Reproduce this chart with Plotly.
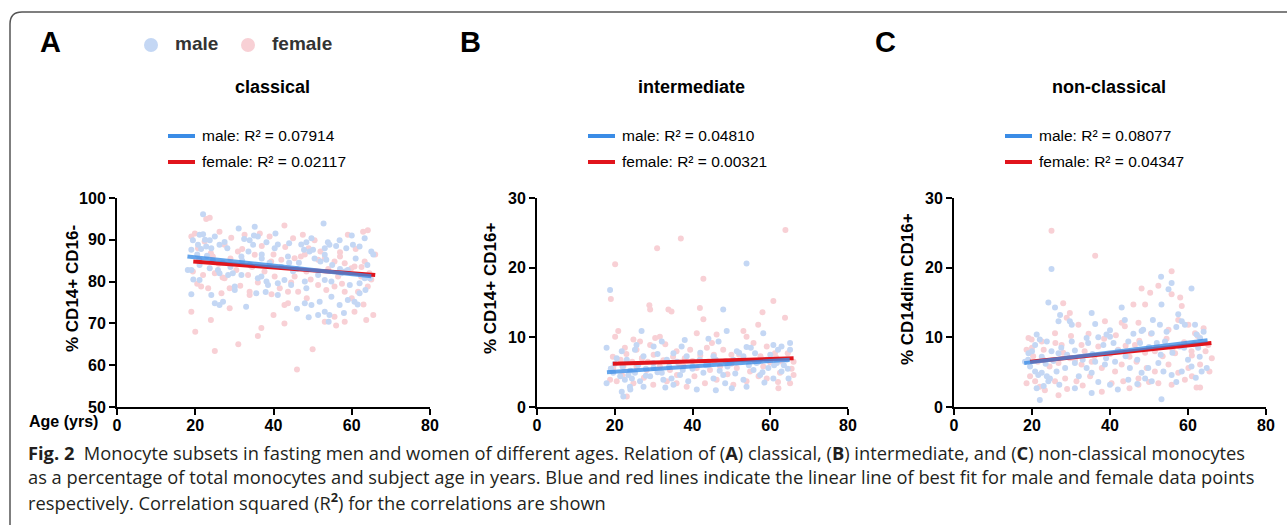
import plotly.graph_objects as go

W, H = 1287, 525

# ---------------- data ----------------
# Panel A: classical (% CD14+ CD16-)
a_male_age = [22.0, 52.8, 31.1, 35.2, 21.1, 22.0, 23.7, 25.0, 19.4, 20.7, 22.8, 24.1, 26.2, 28.2, 19.0,
              33.9, 34.8, 36.0, 38.2, 40.3, 41.1, 33.6, 31.8, 43.7, 47.1, 48.4, 49.7, 47.8, 49.2, 50.1,
              53.1, 53.1, 53.9, 54.3, 56.9, 58.6, 60.3, 62.0, 63.3, 65.0, 18.1, 19.0, 21.1, 23.7, 25.8,
              26.2, 28.4, 29.6, 31.8, 36.0, 36.9, 38.2, 38.6, 41.1, 42.8, 44.5, 48.4, 48.0, 51.4, 53.1,
              54.8, 57.3, 58.2, 59.5, 62.0, 63.3, 64.6, 21.1, 24.1, 19.0, 25.0, 26.2, 27.1, 30.1, 30.1,
              35.6, 41.1, 48.0, 49.7, 53.1, 54.3, 56.9, 59.0, 60.7, 62.0, 51.8, 54.8, 51.4, 54.1, 49.0,
              35.0, 37.0, 44.0, 46.0, 20.5, 21.5, 23.0, 24.5, 27.0, 29.0, 32.0, 34.0, 37.0, 39.0,
              42.0, 45.0, 46.5, 50.5, 52.0, 53.5, 55.0, 57.0, 59.0, 61.0, 64.0, 65.5, 22.5, 27.5,
              32.5, 40.5, 44.0, 56.0, 60.0, 63.5, 19.5, 33.0, 38.0, 46.0, 58.0, 61.5]
a_male_val = [96.1, 93.9, 92.7, 93.1, 91.2, 91.3, 89.9, 90.8, 89.9, 88.8, 88.4, 88.0, 88.8, 88.0, 87.6,
              89.9, 88.8, 90.8, 89.4, 88.0, 88.9, 87.2, 86.0, 86.0, 88.9, 89.4, 90.4, 87.6, 87.2, 87.6,
              88.0, 86.4, 89.4, 88.8, 89.9, 88.0, 88.8, 88.4, 90.4, 87.2, 82.8, 82.8, 84.0, 83.2, 82.8,
              82.0, 81.6, 82.0, 81.6, 80.8, 81.2, 80.0, 79.2, 79.6, 80.4, 79.2, 78.4, 80.0, 81.6, 80.4,
              80.0, 82.0, 82.4, 79.2, 79.6, 80.8, 80.8, 80.4, 76.8, 77.0, 74.8, 74.4, 75.2, 78.8, 78.0,
              77.2, 76.8, 74.8, 74.4, 72.8, 72.0, 74.4, 75.6, 75.2, 77.2, 75.2, 76.4, 72.0, 70.4, 71.5,
              91.0, 85.5, 84.5, 83.0, 86.5, 87.8, 86.2, 85.0, 84.5, 83.5, 85.0, 84.0, 86.5, 84.5,
              83.5, 82.5, 84.5, 85.5, 84.8, 85.2, 84.0, 83.0, 82.8, 85.5, 84.0, 86.5, 90.0, 89.5,
              90.2, 91.5, 89.2, 88.5, 91.0, 78.0, 80.5, 74.0, 77.5, 73.5, 72.5, 74.5]
a_female_age = [22.8, 23.7, 42.8, 19.0, 19.9, 26.2, 29.2, 32.6, 36.5, 39.0, 45.0, 47.5, 50.5, 59.0, 62.9,
                64.1, 20.7, 22.4, 27.5, 30.9, 35.2, 39.4, 42.0, 45.4, 51.4, 53.1, 55.6, 58.2, 60.7, 63.3,
                19.4, 22.0, 25.0, 27.5, 30.5, 33.5, 37.7, 40.3, 45.4, 48.4, 51.4, 56.5, 59.9, 62.4, 21.5,
                23.3, 26.7, 28.8, 33.9, 41.6, 43.7, 46.3, 55.6, 58.2, 61.6, 64.1, 19.0, 28.8, 33.9, 42.8,
                43.7, 53.1, 55.6, 58.2, 60.7, 63.7, 42.8, 20.0, 36.9, 25.0, 31.0, 36.0, 46.0, 50.0, 66.0,
                24.5, 34.0, 48.0, 57.0, 65.0, 21.0, 24.0, 26.0, 29.0, 32.0, 34.5, 37.0, 40.0, 43.0,
                47.0, 49.0, 52.0, 54.0, 57.0, 61.0, 62.5, 64.5, 20.5, 27.0, 31.5, 36.0, 39.5, 44.5,
                49.5, 53.5, 57.5, 60.0, 63.0, 24.0, 40.0, 48.5, 56.0, 65.5]
a_female_val = [95.0, 95.3, 93.4, 90.8, 91.5, 91.9, 90.5, 91.2, 91.5, 90.8, 90.4, 91.2, 89.9, 91.2, 91.9,
                92.3, 88.0, 89.6, 88.8, 87.2, 86.4, 84.8, 85.2, 85.6, 85.2, 85.6, 84.8, 84.4, 83.6, 84.8,
                82.4, 81.6, 82.0, 80.8, 82.8, 81.6, 82.4, 81.2, 81.2, 82.4, 79.2, 81.2, 83.2, 81.2, 78.8,
                78.4, 77.2, 78.4, 77.6, 78.4, 77.6, 77.6, 78.8, 77.6, 77.6, 78.8, 72.8, 73.6, 76.8, 74.4,
                74.8, 70.4, 71.6, 70.4, 72.8, 70.8, 70.0, 68.0, 68.9, 63.4, 65.0, 67.0, 59.0, 63.8, 86.5,
                86.0, 84.0, 86.5, 87.0, 80.5, 85.2, 86.8, 84.3, 85.5, 87.8, 83.5, 88.5, 86.5, 88.3,
                86.0, 88.0, 87.2, 83.0, 86.0, 87.8, 83.5, 82.0, 79.5, 81.0, 79.0, 79.8, 77.0, 79.8,
                80.5, 78.0, 79.5, 76.0, 74.5, 70.8, 72.0, 76.0, 69.5, 72.0]

# Panel B: intermediate (% CD14+ CD16+)
b_male_age = [53.9, 18.8, 47.9, 26.9, 17.9, 21.8, 25.2, 25.6, 32.1, 35.1, 37.2, 44.1, 46.7, 48.8, 51.4,
              53.9, 56.1, 58.2, 60.8, 62.9, 65.1, 65.1, 20.5, 23.1, 27.4, 29.9, 33.4, 38.5, 41.9, 45.4,
              50.5, 53.1, 56.5, 59.1, 61.7, 64.2, 19.6, 21.4, 22.6, 23.5, 24.4, 25.2, 26.5, 29.1, 32.1,
              32.5, 34.6, 35.1, 36.8, 38.9, 41.1, 42.8, 45.4, 47.9, 48.4, 50.1, 53.1, 53.9, 55.7, 57.4,
              59.5, 60.8, 62.9, 64.7, 21.8, 22.2, 23.9, 27.4, 17.9, 19.0, 28.0, 31.0, 40.0, 44.0, 49.0,
              19.0, 20.0, 22.0, 23.0, 24.0, 26.0, 28.0, 30.0, 31.0, 34.0, 36.0, 37.5, 40.0, 42.0,
              43.5, 46.0, 47.0, 49.5, 51.0, 52.0, 54.5, 55.0, 57.0, 58.0, 60.0, 61.0, 62.0, 63.5,
              64.5, 24.0, 33.0, 46.0, 58.5, 38.0, 30.0]
b_male_val = [20.6, 16.8, 14.0, 10.9, 8.5, 8.0, 8.2, 8.9, 9.4, 7.7, 8.7, 9.8, 9.4, 10.9, 8.0,
              8.6, 7.7, 10.6, 8.9, 8.7, 9.2, 8.2, 7.0, 6.8, 7.3, 6.3, 6.8, 7.3, 6.8, 7.3,
              6.8, 7.3, 6.3, 6.8, 6.3, 6.8, 4.9, 4.4, 3.9, 4.6, 4.1, 4.9, 3.7, 4.4, 4.9,
              3.9, 4.1, 3.2, 4.6, 3.7, 2.5, 4.9, 4.1, 4.6, 3.4, 2.7, 3.9, 2.9, 5.3, 4.6,
              5.6, 4.1, 5.1, 4.1, 2.2, 1.5, 2.9, 2.9, 3.4, 5.5, 5.5, 5.0, 5.5, 6.0, 5.8,
              5.5, 6.2, 5.8, 6.5, 5.2, 6.0, 4.5, 5.6, 7.6, 5.8, 6.5, 5.3, 5.8, 7.8,
              6.0, 6.8, 5.2, 6.3, 4.8, 7.8, 6.0, 8.5, 6.5, 5.0, 7.5, 6.0, 8.2, 6.0,
              5.5, 2.5, 2.8, 2.4, 3.5, 9.6, 8.7]
b_female_age = [20.1, 42.8, 19.0, 28.9, 29.1, 33.8, 34.6, 41.9, 42.8, 60.8, 63.8, 58.0, 20.9, 20.1, 24.8,
                26.5, 30.4, 31.6, 41.1, 46.2, 53.1, 56.9, 53.9, 22.6, 25.6, 29.1, 35.9, 39.4, 43.7, 47.9,
                55.7, 59.1, 61.2, 19.6, 22.2, 25.6, 28.2, 31.6, 34.2, 37.7, 41.1, 44.5, 47.1, 51.4, 54.8,
                58.2, 62.5, 66.0, 18.8, 20.5, 24.8, 29.9, 33.4, 35.9, 38.5, 43.2, 46.2, 50.5, 53.9, 59.1,
                62.1, 65.1, 23.1, 30.9, 37.0, 63.9, 66.0, 27.0, 50.0, 19.5, 21.5, 23.0, 24.5, 27.0,
                28.5, 30.0, 32.5, 35.0, 36.5, 38.0, 40.0, 42.0, 44.0, 45.5, 48.5, 50.0, 52.0, 53.0,
                56.0, 57.5, 60.0, 61.5, 63.0, 64.5, 65.5, 22.0, 27.5, 36.0, 40.5, 49.0, 57.0, 62.0,
                45.0, 33.0]
b_female_val = [20.5, 18.4, 15.5, 14.6, 14.0, 14.0, 13.7, 14.2, 12.6, 15.2, 12.8, 13.6, 10.9, 10.1, 9.7,
                9.4, 9.9, 10.1, 10.6, 10.4, 10.9, 11.8, 10.1, 8.5, 8.2, 8.9, 8.0, 8.2, 8.5, 8.2,
                9.2, 8.7, 7.7, 5.6, 5.8, 5.8, 5.3, 5.8, 5.3, 5.8, 5.6, 5.3, 5.8, 5.6, 5.1,
                5.8, 4.9, 4.6, 3.9, 3.7, 3.4, 3.2, 3.7, 3.4, 2.9, 3.4, 3.9, 3.2, 3.7, 4.1,
                2.7, 3.4, 1.5, 22.8, 24.2, 25.4, 6.5, 7.0, 7.5, 7.2, 6.8, 7.6, 6.5, 7.0,
                6.5, 7.5, 6.7, 7.2, 6.2, 7.0, 6.6, 7.4, 6.5, 7.5, 6.6, 6.2, 7.5, 6.8,
                6.6, 7.3, 6.4, 7.1, 6.5, 7.7, 5.5, 4.5, 4.2, 4.6, 4.4, 4.7, 4.4, 3.6,
                9.2, 9.0]

# Panel C: non-classical (% CD14dim CD16+)
c_male_age = [25.0, 53.1, 60.9, 55.8, 55.0, 24.2, 25.9, 27.2, 26.8, 29.7, 30.2, 35.3, 36.2, 39.1, 40.0,
              43.0, 43.8, 48.1, 48.5, 50.7, 52.8, 53.2, 57.5, 58.4, 59.2, 61.8, 62.2, 63.1, 21.2, 22.0,
              20.8, 23.8, 25.0, 26.8, 30.2, 34.0, 34.4, 38.3, 40.9, 44.7, 47.7, 52.0, 54.1, 57.9, 62.6,
              19.1, 18.2, 19.5, 20.8, 21.6, 22.5, 23.8, 24.6, 24.2, 26.3, 28.5, 31.0, 34.0, 35.3, 36.2,
              38.7, 41.3, 45.1, 48.1, 49.0, 49.8, 52.4, 53.7, 55.8, 58.4, 60.9, 63.5, 64.8, 21.2, 22.0,
              31.0, 35.3, 40.0, 44.7, 53.2, 50.7, 19.0, 20.0, 22.5, 23.5, 25.5, 27.5, 29.0, 31.0,
              33.0, 35.5, 37.0, 39.0, 40.0, 42.0, 44.0, 46.0, 47.0, 50.0, 51.0, 53.0, 54.5, 56.0,
              57.0, 59.0, 60.0, 61.5, 63.0, 64.0, 23.0, 27.0, 32.0, 37.0, 42.0, 47.0, 57.0, 62.0]
c_male_val = [19.8, 18.7, 17.0, 17.8, 16.9, 15.0, 14.3, 13.2, 12.3, 12.3, 11.8, 13.5, 11.9, 10.4, 10.1,
              14.3, 12.5, 10.9, 11.1, 10.6, 11.8, 14.7, 13.3, 12.3, 11.8, 11.8, 10.4, 9.9, 10.4, 9.7,
              8.9, 9.4, 8.0, 7.7, 9.4, 9.9, 9.2, 8.9, 9.2, 9.4, 9.2, 9.2, 9.4, 8.7, 8.5,
              7.7, 6.5, 5.8, 5.1, 4.6, 4.9, 4.4, 4.1, 3.7, 5.1, 5.6, 6.3, 5.6, 4.9, 6.5,
              6.1, 6.5, 5.6, 4.9, 4.1, 5.6, 6.3, 5.1, 4.6, 5.1, 5.8, 5.1, 5.6, 2.7, 1.0,
              2.7, 2.0, 3.2, 3.9, 1.1, 3.7, 6.8, 8.0, 7.2, 6.2, 6.6, 8.5, 7.5, 8.1,
              6.8, 7.6, 10.0, 7.0, 11.0, 8.1, 7.3, 10.5, 6.8, 8.6, 12.5, 7.5, 10.8, 7.8,
              11.5, 8.5, 6.8, 9.0, 7.2, 10.8, 3.0, 3.2, 4.4, 3.6, 2.5, 3.3, 3.6, 4.2]
c_female_age = [25.0, 36.2, 55.8, 48.1, 50.3, 52.4, 55.8, 58.0, 49.0, 58.4, 28.0, 29.7, 28.9, 31.9, 38.7,
                43.0, 43.8, 46.0, 47.3, 55.0, 60.1, 61.8, 64.0, 19.1, 19.9, 22.5, 25.9, 27.6, 32.7, 37.0,
                42.1, 46.4, 51.5, 56.7, 60.9, 65.2, 18.6, 20.3, 22.9, 26.8, 29.7, 32.7, 35.3, 37.9, 41.3,
                43.0, 46.8, 49.4, 51.5, 55.0, 57.5, 60.1, 63.1, 66.1, 19.5, 20.8, 25.9, 28.5, 31.4, 34.9,
                40.4, 43.4, 47.3, 52.4, 55.8, 59.2, 62.2, 63.1, 18.6, 23.3, 26.8, 37.9, 47.3, 20.0,
                21.5, 23.0, 24.5, 26.0, 28.0, 30.0, 31.0, 33.5, 34.5, 36.0, 38.5, 40.0, 41.5, 44.0,
                45.0, 47.5, 49.0, 50.5, 52.0, 53.5, 54.5, 56.0, 57.5, 59.0, 61.0, 62.5, 64.5, 65.5,
                22.0, 29.0, 33.0, 45.0, 50.0, 61.0]
c_female_val = [25.3, 21.7, 19.5, 17.0, 16.4, 17.4, 16.2, 15.7, 14.7, 14.5, 14.9, 13.5, 12.8, 11.8, 12.3,
                12.1, 11.6, 14.7, 12.1, 11.1, 11.8, 10.6, 11.3, 9.9, 9.7, 9.4, 10.6, 8.9, 8.9, 8.7,
                8.2, 8.9, 8.0, 7.7, 8.0, 8.9, 8.2, 7.3, 6.8, 6.3, 7.0, 6.1, 6.5, 5.6, 5.1,
                6.1, 6.5, 5.6, 5.1, 6.1, 4.9, 5.6, 6.1, 7.0, 4.4, 3.7, 3.7, 4.1, 3.7, 4.4,
                3.4, 3.7, 3.2, 3.4, 3.2, 3.9, 2.8, 2.8, 3.4, 2.4, 1.7, 2.2, 4.1, 8.5,
                6.5, 8.2, 5.8, 9.2, 7.8, 10.2, 6.7, 8.0, 10.5, 7.3, 9.8, 7.6, 10.3, 8.8,
                7.2, 9.5, 7.8, 10.5, 8.7, 7.3, 9.8, 8.3, 12.5, 9.3, 7.4, 10.2, 8.0, 5.1,
                2.9, 2.6, 3.1, 2.7, 3.6, 4.4]

# Best-fit lines (end points)
a_fit_male_age, a_fit_male_val = [18, 65], [86.0, 81.3]
a_fit_female_age, a_fit_female_val = [19.5, 66], [84.8, 81.6]
b_fit_male_age, b_fit_male_val = [18, 65], [5.0, 6.8]
b_fit_female_age, b_fit_female_val = [19.5, 66], [6.2, 7.0]
c_fit_male_age, c_fit_male_val = [18, 65], [6.3, 9.6]
c_fit_female_age, c_fit_female_val = [19.5, 66], [6.5, 9.2]

panel_letters = ["A", "B", "C"]
panel_titles = ["classical", "intermediate", "non-classical"]
y_titles = ["% CD14+ CD16-", "% CD14+ CD16+", "% CD14dim CD16+"]
male_r2 = ["0.07914", "0.04810", "0.08077"]
female_r2 = ["0.02117", "0.00321", "0.04347"]
x_ticks = [0, 20, 40, 60, 80]
y_ticks_a = [50, 60, 70, 80, 90, 100]
y_ticks_bc = [0, 10, 20, 30]

# ---------------- styling ----------------
MALE_DOT = "#c4d7f4"
FEMALE_DOT = "#f8d0d5"
MALE_LINE = "#3a8ce6"
FEMALE_LINE = "#e1141c"
ARIAL = "Liberation Sans, Arial, sans-serif"
CAP = "Open Sans, Noto Sans, sans-serif"


def px(x):
    return x / W


def py(y):
    return 1 - y / H


def note(x, y, text, font, xanchor="center", yanchor="middle", **kw):
    d = dict(x=px(x), y=py(y), xref="paper", yref="paper", text=text, showarrow=False,
             xanchor=xanchor, yanchor=yanchor, font=font)
    d.update(kw)
    return d


panels = [
    dict(x0=117, x1=430, data=(a_male_age, a_male_val, a_female_age, a_female_val),
         fit=(a_fit_male_age, a_fit_male_val, a_fit_female_age, a_fit_female_val),
         yrange=[50, 100], yticks=y_ticks_a, ytitle_x=72, letter_x=50),
    dict(x0=537, x1=848, data=(b_male_age, b_male_val, b_female_age, b_female_val),
         fit=(b_fit_male_age, b_fit_male_val, b_fit_female_age, b_fit_female_val),
         yrange=[0, 30], yticks=y_ticks_bc, ytitle_x=490, letter_x=470),
    dict(x0=954, x1=1266, data=(c_male_age, c_male_val, c_female_age, c_female_val),
         fit=(c_fit_male_age, c_fit_male_val, c_fit_female_age, c_fit_female_val),
         yrange=[0, 30], yticks=y_ticks_bc, ytitle_x=907, letter_x=885),
]
Y_TOP, Y_BOT = 198, 407

fig = go.Figure()
layout = dict(width=W, height=H, autosize=False, margin=dict(l=0, r=0, t=0, b=0, pad=0),
              paper_bgcolor="white", plot_bgcolor="rgba(0,0,0,0)", showlegend=False)
annotations = []
shapes = []

for i, p in enumerate(panels):
    sfx = "" if i == 0 else str(i + 1)
    xa, ya = "x" + sfx, "y" + sfx
    ma, mv, fa, fv = p["data"]
    fig.add_trace(go.Scatter(x=fa, y=fv, mode="markers", xaxis=xa, yaxis=ya,
                             marker=dict(size=6, color=FEMALE_DOT, line=dict(width=0))))
    fig.add_trace(go.Scatter(x=ma, y=mv, mode="markers", xaxis=xa, yaxis=ya,
                             marker=dict(size=6, color=MALE_DOT, line=dict(width=0))))
    fma, fmv, ffa, ffv = p["fit"]
    fig.add_trace(go.Scatter(x=ffa, y=ffv, mode="lines", xaxis=xa, yaxis=ya,
                             line=dict(color=FEMALE_LINE, width=4)))
    fig.add_trace(go.Scatter(x=fma, y=fmv, mode="lines", xaxis=xa, yaxis=ya, opacity=0.78,
                             line=dict(color=MALE_LINE, width=4)))
    axis_common = dict(showline=True, linewidth=2, linecolor="black", ticks="outside",
                       ticklen=6, tickwidth=2, tickcolor="black", showgrid=False, zeroline=False,
                       automargin=False,
                       tickfont=dict(family=ARIAL, size=16, color="black", weight="bold"))
    layout["xaxis" + sfx] = dict(domain=[px(p["x0"]), px(p["x1"])], range=[0, 80],
                                 tickvals=x_ticks, anchor=ya, ticklabelstandoff=-3, **axis_common)
    layout["yaxis" + sfx] = dict(domain=[py(Y_BOT), py(Y_TOP)], range=p["yrange"],
                                 tickvals=p["yticks"], anchor=xa, **axis_common)
    # y-axis title
    annotations.append(note(p["ytitle_x"], 289, y_titles[i],
                            dict(family=ARIAL, size=17, color="black", weight="bold"), textangle=-90))
    # panel title
    cx = (p["x0"] + p["x1"]) / 2 - 1
    annotations.append(note(cx, 87, panel_titles[i],
                            dict(family=ARIAL, size=18, color="black", weight="bold")))
    # inner legend
    lx0 = p["x0"] + 51
    for j, (lab, val, col) in enumerate([("male", male_r2[i], MALE_LINE), ("female", female_r2[i], FEMALE_LINE)]):
        yy = 136 + j * 26
        shapes.append(dict(type="line", xref="paper", yref="paper", x0=px(lx0), x1=px(lx0 + 27),
                           y0=py(yy), y1=py(yy), line=dict(color=col, width=4)))
        annotations.append(note(lx0 + 32, yy, f"{lab}: R² = {val}",
                                dict(family=ARIAL, size=15.5, color="black"), xanchor="left"))
    # panel letter
    annotations.append(note(p["letter_x"], 42, panel_letters[i],
                            dict(family=ARIAL, size=29, color="black", weight="bold")))

# top legend (dots + labels)
for cxp, col, lab in [(151, MALE_DOT, "male"), (248, FEMALE_DOT, "female")]:
    shapes.append(dict(type="circle", xref="paper", yref="paper", x0=px(cxp - 7), x1=px(cxp + 7),
                       y0=py(52), y1=py(38), fillcolor=col, line=dict(width=0)))
    annotations.append(note(cxp + 22, 44, lab,
                            dict(family=ARIAL, size=19, color="#333333", weight="bold"), xanchor="left"))

# Age label
annotations.append(note(100, 421, "Age (yrs)",
                        dict(family=ARIAL, size=16, color="black", weight="bold"), xanchor="right"))

# caption
caption_lines = [
    "<b>Fig. 2</b>  Monocyte subsets in fasting men and women of different ages. Relation of (<b>A</b>) classical, (<b>B</b>) intermediate, and (<b>C</b>) non-classical monocytes",
    "as a percentage of total monocytes and subject age in years. Blue and red lines indicate the linear line of best fit for male and female data points",
    "respectively. Correlation squared (R<sup><b>2</b></sup>) for the correlations are shown",
]
for k, line in enumerate(caption_lines):
    annotations.append(note(26, 452 + k * 24.5, line,
                            dict(family=CAP, size=18.3, color="#231f20"), xanchor="left"))

# frame with rounded top-left corner
r = 12
path = (f"M {px(10)},{py(H + 5)} L {px(10)},{py(12 + r)} "
        f"Q {px(10)},{py(12)} {px(10 + r)},{py(12)} L {px(W + 5)},{py(12)}")
shapes.append(dict(type="path", xref="paper", yref="paper", path=path,
                   line=dict(color="#555555", width=1.5)))

layout["annotations"] = annotations
layout["shapes"] = shapes
fig.update_layout(**layout)
fig.write_html("out.html", config={"displayModeBar": False},
               post_script="document.body.style.margin='0';document.body.style.overflow='hidden';")
